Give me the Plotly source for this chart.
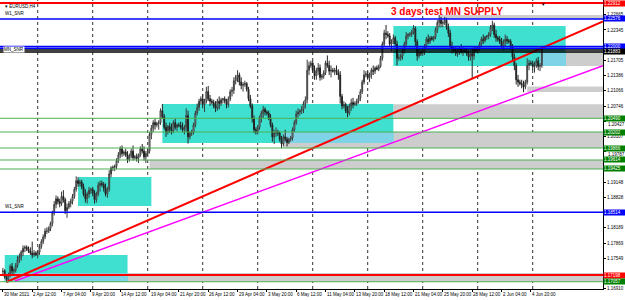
import plotly.graph_objects as go

# ---------------- data ----------------
time_labels = ["30 Mar 2021", "2 Apr 12:00", "7 Apr 04:00", "9 Apr 20:00", "14 Apr 12:00",
               "19 Apr 04:00", "21 Apr 20:00", "26 Apr 12:00", "29 Apr 04:00", "3 May 20:00",
               "6 May 12:00", "11 May 04:00", "13 May 20:00", "18 May 12:00", "21 May 04:00",
               "25 May 20:00", "28 May 12:00", "2 Jun 04:00", "4 Jun 20:00"]
time_label_bars = [0, 16, 32, 48, 64, 80, 96, 112, 128, 144, 160, 176, 192, 208, 224,
                   240, 256, 272, 288]
week_grid_bars = [19, 49, 79, 109, 139, 169, 199, 229, 259, 289]
price_ticks = [1.16910, 1.17230, 1.17549, 1.17869, 1.18189, 1.18508, 1.18828, 1.19148,
               1.19468, 1.19787, 1.20107, 1.20427, 1.20746, 1.21066, 1.21386, 1.21705,
               1.22025, 1.22345, 1.22665]
# ticks whose text is hidden behind a coloured line label
hidden_ticks = [1.17230, 1.18508, 1.19468, 1.22025]
# ticks whose text is pushed just below a coloured line label
nudged_ticks = [1.19787, 1.20427]

# EURUSD H4 candles, prices in 1/10000
opens_pips = [
    11727,
    11728, 11716, 11710, 11720, 11738, 11728,
    11730, 11740, 11752, 11758, 11768, 11776,
    11778, 11774, 11770, 11766, 11762, 11766,
    11762, 11768, 11780, 11790, 11800, 11812,
    11812, 11818, 11828, 11850, 11868, 11880,
    11874, 11870, 11885, 11878, 11855, 11862,
    11870, 11875, 11885, 11900, 11918, 11912,
    11915, 11905, 11890, 11880, 11890, 11898,
    11900, 11892, 11878, 11890, 11908, 11912,
    11910, 11902, 11890, 11900, 11932, 11945,
    11946, 11948, 11960, 11972, 11985, 11975,
    11978, 11972, 11962, 11970, 11980, 11966,
    11968, 11965, 11972, 11985, 11980, 11968,
    11975, 11980, 12015, 12028, 12040, 12035,
    12038, 12040, 12065, 12052, 12030, 12020,
    12032, 12025, 12022, 12040, 12030, 12035,
    12034, 12030, 12025, 12030, 12055, 12010,
    12018, 12020, 12035, 12060, 12072, 12085,
    12090, 12078, 12085, 12105, 12090, 12085,
    12082, 12075, 12070, 12085, 12080, 12088,
    12090, 12085, 12078, 12090, 12105, 12108,
    12128, 12135, 12140, 12125, 12118, 12120,
    12122, 12110, 12090, 12075, 12048, 12025,
    12020, 12030, 12050, 12060, 12068, 12062,
    12060, 12050, 12035, 12010, 12018, 12020,
    12018, 12005, 11995, 12010, 12005, 11998,
    12005, 12008, 12025, 12040, 12058, 12062,
    12065, 12068, 12080, 12088, 12150, 12160,
    12165, 12150, 12138, 12148, 12155, 12135,
    12138, 12145, 12165, 12160, 12148, 12150,
    12148, 12150, 12145, 12140, 12095, 12075,
    12078, 12065, 12060, 12075, 12082, 12078,
    12080, 12085, 12092, 12105, 12125, 12140,
    12142, 12135, 12140, 12150, 12148, 12155,
    12152, 12158, 12175, 12205, 12228, 12225,
    12222, 12205, 12210, 12218, 12205, 12175,
    12176, 12180, 12190, 12205, 12222, 12225,
    12226, 12230, 12238, 12210, 12180, 12188,
    12185, 12190, 12200, 12215, 12210, 12218,
    12215, 12220, 12235, 12250, 12255, 12248,
    12250, 12255, 12240, 12228, 12200, 12195,
    12192, 12185, 12190, 12195, 12188, 12192,
    12190, 12185, 12178, 12185, 12180, 12195,
    12192, 12195, 12205, 12215, 12212, 12220,
    12222, 12225, 12240, 12245, 12225, 12218,
    12215, 12210, 12200, 12210, 12215, 12212,
    12210, 12200, 12178, 12160, 12130, 12125,
    12122, 12120, 12115, 12125, 12160, 12165,
    12164, 12158, 12160, 12170, 12158, 12160,
]
highs_pips = [
    11735,
    11732, 11722, 11725, 11742, 11745, 11735,
    11745, 11760, 11765, 11772, 11782, 11782,
    11782, 11780, 11778, 11790, 11772, 11770,
    11772, 11785, 11795, 11805, 11818, 11820,
    11822, 11832, 11855, 11875, 11887, 11885,
    11880, 11895, 11898, 11882, 11870, 11875,
    11880, 11890, 11905, 11927, 11925, 11920,
    11920, 11912, 11900, 11895, 11905, 11903,
    11905, 11898, 11895, 11915, 11918, 11918,
    11915, 11912, 11905, 11940, 11948, 11950,
    11952, 11965, 11978, 11990, 11992, 11982,
    11985, 11980, 11975, 11985, 11992, 11972,
    11975, 11975, 11990, 11995, 11990, 11980,
    11985, 12020, 12035, 12045, 12048, 12042,
    12045, 12070, 12079, 12058, 12040, 12035,
    12040, 12038, 12045, 12048, 12038, 12040,
    12042, 12040, 12035, 12070, 12065, 12022,
    12025, 12040, 12065, 12080, 12090, 12095,
    12100, 12090, 12115, 12117, 12098, 12090,
    12088, 12085, 12090, 12095, 12092, 12092,
    12095, 12090, 12095, 12110, 12115, 12135,
    12140, 12150, 12145, 12135, 12125, 12128,
    12125, 12115, 12098, 12080, 12055, 12030,
    12035, 12055, 12065, 12075, 12072, 12066,
    12065, 12058, 12040, 12025, 12030, 12025,
    12022, 12012, 12015, 12025, 12010, 12008,
    12012, 12030, 12045, 12065, 12070, 12068,
    12075, 12085, 12095, 12172, 12168, 12170,
    12170, 12160, 12155, 12165, 12162, 12142,
    12150, 12170, 12181, 12170, 12160, 12155,
    12155, 12160, 12152, 12148, 12100, 12085,
    12082, 12075, 12080, 12090, 12092, 12085,
    12090, 12098, 12110, 12130, 12150, 12148,
    12148, 12145, 12155, 12160, 12158, 12160,
    12162, 12180, 12210, 12235, 12245, 12232,
    12228, 12215, 12225, 12222, 12212, 12185,
    12185, 12195, 12210, 12230, 12228, 12230,
    12235, 12245, 12242, 12215, 12195, 12192,
    12195, 12205, 12220, 12225, 12222, 12222,
    12222, 12240, 12255, 12266, 12262, 12255,
    12262, 12260, 12248, 12235, 12210, 12200,
    12198, 12195, 12200, 12205, 12198, 12196,
    12195, 12192, 12190, 12195, 12200, 12200,
    12200, 12210, 12220, 12225, 12222, 12224,
    12230, 12245, 12254, 12250, 12235, 12222,
    12222, 12218, 12215, 12225, 12222, 12216,
    12215, 12205, 12185, 12165, 12140, 12130,
    12130, 12128, 12130, 12175, 12172, 12170,
    12170, 12168, 12175, 12178, 12165, 12200,
]
lows_pips = [
    11718,
    11712, 11704, 11706, 11715, 11722, 11722,
    11725, 11735, 11745, 11750, 11760, 11768,
    11770, 11766, 11762, 11755, 11758, 11760,
    11755, 11762, 11775, 11785, 11795, 11806,
    11808, 11812, 11822, 11845, 11860, 11868,
    11862, 11865, 11872, 11848, 11840, 11858,
    11862, 11868, 11880, 11895, 11905, 11906,
    11900, 11885, 11872, 11870, 11882, 11890,
    11885, 11870, 11872, 11885, 11895, 11905,
    11895, 11885, 11882, 11895, 11925, 11938,
    11938, 11942, 11955, 11965, 11968, 11970,
    11968, 11955, 11958, 11965, 11960, 11962,
    11958, 11955, 11968, 11975, 11960, 11955,
    11970, 11975, 12005, 12020, 12025, 12030,
    12025, 12035, 12048, 12025, 12010, 12015,
    12018, 12015, 12018, 12025, 12022, 12030,
    12025, 12020, 12015, 12020, 11996, 12005,
    12012, 12015, 12030, 12055, 12065, 12078,
    12070, 12062, 12080, 12085, 12075, 12078,
    12070, 12062, 12065, 12068, 12075, 12080,
    12080, 12070, 12072, 12085, 12095, 12100,
    12120, 12125, 12118, 12110, 12105, 12115,
    12105, 12085, 12070, 12040, 12018, 12015,
    12015, 12025, 12040, 12050, 12055, 12055,
    12045, 12030, 12000, 11995, 12010, 12012,
    12000, 11986, 11990, 12000, 11990, 11995,
    12000, 12002, 12020, 12035, 12050, 12055,
    12058, 12060, 12070, 12080, 12140, 12155,
    12145, 12130, 12130, 12140, 12128, 12130,
    12132, 12140, 12155, 12140, 12135, 12145,
    12140, 12140, 12130, 12080, 12068, 12070,
    12060, 12051, 12055, 12065, 12070, 12075,
    12075, 12080, 12085, 12100, 12120, 12135,
    12130, 12125, 12132, 12140, 12142, 12150,
    12148, 12155, 12170, 12200, 12215, 12218,
    12200, 12190, 12205, 12200, 12160, 12170,
    12170, 12172, 12185, 12200, 12215, 12220,
    12220, 12225, 12200, 12170, 12175, 12180,
    12180, 12182, 12195, 12205, 12205, 12212,
    12210, 12215, 12228, 12240, 12240, 12240,
    12245, 12235, 12220, 12195, 12185, 12188,
    12180, 12178, 12182, 12185, 12180, 12186,
    12180, 12170, 12170, 12133, 12172, 12188,
    12185, 12190, 12198, 12205, 12208, 12214,
    12215, 12220, 12232, 12218, 12210, 12210,
    12205, 12195, 12192, 12200, 12205, 12206,
    12195, 12170, 12150, 12120, 12115, 12118,
    12112, 12104, 12110, 12120, 12150, 12160,
    12150, 12145, 12155, 12150, 12148, 12155,
]
closes_pips = [
    11728,
    11716, 11710, 11720, 11738, 11728, 11730,
    11740, 11752, 11758, 11768, 11776, 11778,
    11774, 11770, 11766, 11762, 11766, 11762,
    11768, 11780, 11790, 11800, 11812, 11812,
    11818, 11828, 11850, 11868, 11880, 11874,
    11870, 11885, 11878, 11855, 11862, 11870,
    11875, 11885, 11900, 11918, 11912, 11915,
    11905, 11890, 11880, 11890, 11898, 11900,
    11892, 11878, 11890, 11908, 11912, 11910,
    11902, 11890, 11900, 11932, 11945, 11946,
    11948, 11960, 11972, 11985, 11975, 11978,
    11972, 11962, 11970, 11980, 11966, 11968,
    11965, 11972, 11985, 11980, 11968, 11975,
    11980, 12015, 12028, 12040, 12035, 12038,
    12040, 12065, 12052, 12030, 12020, 12032,
    12025, 12022, 12040, 12030, 12035, 12034,
    12030, 12025, 12030, 12055, 12010, 12018,
    12020, 12035, 12060, 12072, 12085, 12090,
    12078, 12085, 12105, 12090, 12085, 12082,
    12075, 12070, 12085, 12080, 12088, 12090,
    12085, 12078, 12090, 12105, 12108, 12128,
    12135, 12140, 12125, 12118, 12120, 12122,
    12110, 12090, 12075, 12048, 12025, 12020,
    12030, 12050, 12060, 12068, 12062, 12060,
    12050, 12035, 12010, 12018, 12020, 12018,
    12005, 11995, 12010, 12005, 11998, 12005,
    12008, 12025, 12040, 12058, 12062, 12065,
    12068, 12080, 12088, 12150, 12160, 12165,
    12150, 12138, 12148, 12155, 12135, 12138,
    12145, 12165, 12160, 12148, 12150, 12148,
    12150, 12145, 12140, 12095, 12075, 12078,
    12065, 12060, 12075, 12082, 12078, 12080,
    12085, 12092, 12105, 12125, 12140, 12142,
    12135, 12140, 12150, 12148, 12155, 12152,
    12158, 12175, 12205, 12228, 12225, 12222,
    12205, 12210, 12218, 12205, 12175, 12176,
    12180, 12190, 12205, 12222, 12225, 12226,
    12230, 12238, 12210, 12180, 12188, 12185,
    12190, 12200, 12215, 12210, 12218, 12215,
    12220, 12235, 12250, 12255, 12248, 12250,
    12255, 12240, 12228, 12200, 12195, 12192,
    12185, 12190, 12195, 12188, 12192, 12190,
    12185, 12178, 12185, 12180, 12195, 12192,
    12195, 12205, 12215, 12212, 12220, 12222,
    12225, 12240, 12245, 12225, 12218, 12215,
    12210, 12200, 12210, 12215, 12212, 12210,
    12200, 12178, 12160, 12130, 12125, 12122,
    12120, 12115, 12125, 12160, 12165, 12164,
    12158, 12160, 12170, 12158, 12160, 12195,
]

# horizontal levels (price)
level_prices = [1.22912, 1.22576, 1.22000, 1.21960, 1.21925, 1.21883, 1.20490, 1.20202,
                1.19866, 1.19614, 1.19425, 1.18514, 1.17198, 1.17057]
level_kinds = ["red", "blue", "blue", "blue", "black", "black", "green", "green",
               "green", "green", "green", "blue", "red", "green"]
# which levels show a price tag on the right scale
level_tagged = [True, True, True, False, False, True, True, True,
                True, True, True, True, True, True]

# demand/supply boxes (bar index from/to, price low/high)
box_from = [1, 41, 87, 213]
box_to = [68, 81, 213, 307]
box_low = [1.17057, 1.18647, 1.19971, 1.21589]
box_high = [1.17618, 1.19257, 1.20790, 1.22429]

# grey zones extended to the right (start bar, price low/high)
zone_from = [238, 293, 286, 213, 153, 80, 1]
zone_low = [1.22576, 1.21589, 1.21040, 1.20490, 1.19866, 1.19425, 1.17057]
zone_high = [1.22660, 1.21883, 1.21160, 1.20784, 1.20202, 1.19614, 1.17240]

# trend lines: two anchor points (bar, price)
red_trend_bars = [2, 294]
red_trend_prices = [1.17051, 1.21963]
magenta_trend_bars = [6.6, 294]
magenta_trend_prices = [1.17072, 1.21124]

# ---------------- styling ----------------
X_MIN, X_MAX = -1.57, 327.35
Y_MIN, Y_MAX = 1.16904, 1.22975
FONT = "Liberation Sans Narrow, Liberation Sans, Arial"
line_color = {"red": "#ff0000", "blue": "#0000ff", "black": "#000000", "green": "#4caf50"}
label_color = {"red": "#ff0000", "blue": "#0000ff", "black": "#000000", "green": "#008000"}
line_width = {"red": 2, "blue": 1.5, "black": 1.5, "green": 1}
nudge_shift = {1.19787: -2.3, 1.20427: -3.1}
CYAN = "#40e0d0"
GREY = "#cdcdcd"
OVERLAP = "#7fd3e6"

bars = list(range(len(closes_pips)))
opens = [v / 10000 for v in opens_pips]
highs = [v / 10000 for v in highs_pips]
lows = [v / 10000 for v in lows_pips]
closes = [v / 10000 for v in closes_pips]

fig = go.Figure()

fig.add_trace(go.Candlestick(
    x=bars, open=opens, high=highs, low=lows, close=closes,
    increasing=dict(line=dict(color="#3a3a3a", width=1), fillcolor="#ffffff"),
    decreasing=dict(line=dict(color="#222222", width=1), fillcolor="#222222"),
    whiskerwidth=0, hoverinfo="skip", showlegend=False,
))


def extend(bx, pr):
    slope = (pr[1] - pr[0]) / (bx[1] - bx[0])
    return [bx[0], X_MAX], [pr[0], pr[0] + slope * (X_MAX - bx[0])]


for bx, pr, col, w in [(magenta_trend_bars, magenta_trend_prices, "#ff00ff", 1.5),
                       (red_trend_bars, red_trend_prices, "#ff0000", 2)]:
    xs, ys = extend(bx, pr)
    fig.add_trace(go.Scatter(x=xs, y=ys, mode="lines", line=dict(color=col, width=w),
                             hoverinfo="skip", showlegend=False))

shapes = []
for x0, lo, hi in zip(zone_from, zone_low, zone_high):
    shapes.append(dict(type="rect", xref="x", yref="y", x0=x0, x1=X_MAX + 5, y0=lo, y1=hi,
                       fillcolor=GREY, line=dict(width=0), layer="below"))
for x0, x1, lo, hi in zip(box_from, box_to, box_low, box_high):
    shapes.append(dict(type="rect", xref="x", yref="y", x0=x0, x1=x1, y0=lo, y1=hi,
                       fillcolor=CYAN, line=dict(width=0), layer="below"))
for x0, x1, lo, hi in zip(box_from, box_to, box_low, box_high):
    for zx, zl, zh in zip(zone_from, zone_low, zone_high):
        ox0, ox1 = max(x0, zx), x1
        oy0, oy1 = max(lo, zl), min(hi, zh)
        if ox1 > ox0 and oy1 > oy0:
            shapes.append(dict(type="rect", xref="x", yref="y", x0=ox0, x1=ox1, y0=oy0, y1=oy1,
                               fillcolor=OVERLAP, line=dict(width=0), layer="below"))
for b in week_grid_bars:
    shapes.append(dict(type="line", xref="x", yref="paper", x0=b, x1=b, y0=0, y1=1,
                       line=dict(color="#333333", width=1, dash="dot"), layer="below"))
for p, k in zip(level_prices, level_kinds):
    shapes.append(dict(type="line", xref="paper", yref="y", x0=0, x1=1, y0=p, y1=p,
                       line=dict(color=line_color[k], width=line_width[k]), layer="above"))

annotations = []
for b, t in zip(time_label_bars, time_labels):
    annotations.append(dict(x=b, y=0, xref="x", yref="paper", text=t, showarrow=False,
                            xanchor="left", yanchor="top", xshift=-1, yshift=-1,
                            font=dict(size=4.5, color="#000000", family=FONT)))
for p, k, tag in zip(level_prices, level_kinds, level_tagged):
    if not tag:
        continue
    annotations.append(dict(x=1, y=p, xref="paper", yref="y", text=f"{p:.5f}", showarrow=False,
                            xanchor="left", yanchor="middle", width=21, height=5,
                            bgcolor=label_color[k], borderpad=0, align="left",
                            font=dict(size=4.5, color="#ffffff", family=FONT)))
# scale values that sit just under a coloured tag: pushed slightly lower
for v in nudged_ticks:
    annotations.append(dict(x=1, y=v, xref="paper", yref="y", text=f"{v:.5f}", showarrow=False,
                            xanchor="left", yanchor="middle", xshift=3, yshift=nudge_shift[v],
                            font=dict(size=4.5, color="#000000", family=FONT)))
annotations += [
    dict(x=0.005, y=1, xref="paper", yref="paper", text="\u25be EURUSD,H4", showarrow=False,
         xanchor="left", yanchor="top", yshift=-2, font=dict(size=4.5, color="#000000", family=FONT)),
    dict(x=0.005, y=level_prices[1], xref="paper", yref="y", text="W1_SNR", showarrow=False,
         xanchor="left", yanchor="bottom", yshift=1, font=dict(size=4.5, color="#000000", family=FONT)),
    dict(x=0.005, y=level_prices[4], xref="paper", yref="y", text="MN_SNR", showarrow=False,
         xanchor="left", yanchor="middle", bgcolor="#ffffff", borderpad=0,
         font=dict(size=4.5, color="#000000", family=FONT)),
    dict(x=0.005, y=level_prices[11], xref="paper", yref="y", text="W1_SNR", showarrow=False,
         xanchor="left", yanchor="bottom", yshift=1, font=dict(size=4.5, color="#000000", family=FONT)),
    dict(x=242, y=1.22744, xref="x", yref="y", text="<b>3 days test MN SUPPLY</b>", showarrow=False,
         xanchor="center", yanchor="middle",
         font=dict(size=10, color="#ff0000", family="Liberation Sans, Arial")),
    dict(x=294.5, y=1, xref="x", yref="paper", text="\u25bc", showarrow=False,
         xanchor="center", yanchor="top", font=dict(size=4.5, color="#000000", family=FONT)),
]

fig.update_layout(
    width=625, height=300,
    margin=dict(l=0, r=22, t=0, b=11),
    paper_bgcolor="#ffffff", plot_bgcolor="#ffffff",
    showlegend=False,
    shapes=shapes, annotations=annotations,
    xaxis=dict(range=[X_MIN, X_MAX], showgrid=False, zeroline=False,
               tickvals=time_label_bars, showticklabels=False, ticks="outside", ticklen=2,
               tickcolor="#000000", showline=True, linecolor="#000000", linewidth=1, mirror=True,
               rangeslider=dict(visible=False), fixedrange=True),
    yaxis=dict(range=[Y_MIN, Y_MAX], side="right", showgrid=False, zeroline=False,
               tickvals=price_ticks,
               ticktext=["" if (v in hidden_ticks or v in nudged_ticks) else f"{v:.5f}"
                         for v in price_ticks],
               ticks="outside", ticklen=2, tickcolor="#000000",
               tickfont=dict(size=4.5, color="#000000", family=FONT),
               showline=True, linecolor="#000000", linewidth=1, mirror=True, fixedrange=True),
)

fig.write_html("out.html")
